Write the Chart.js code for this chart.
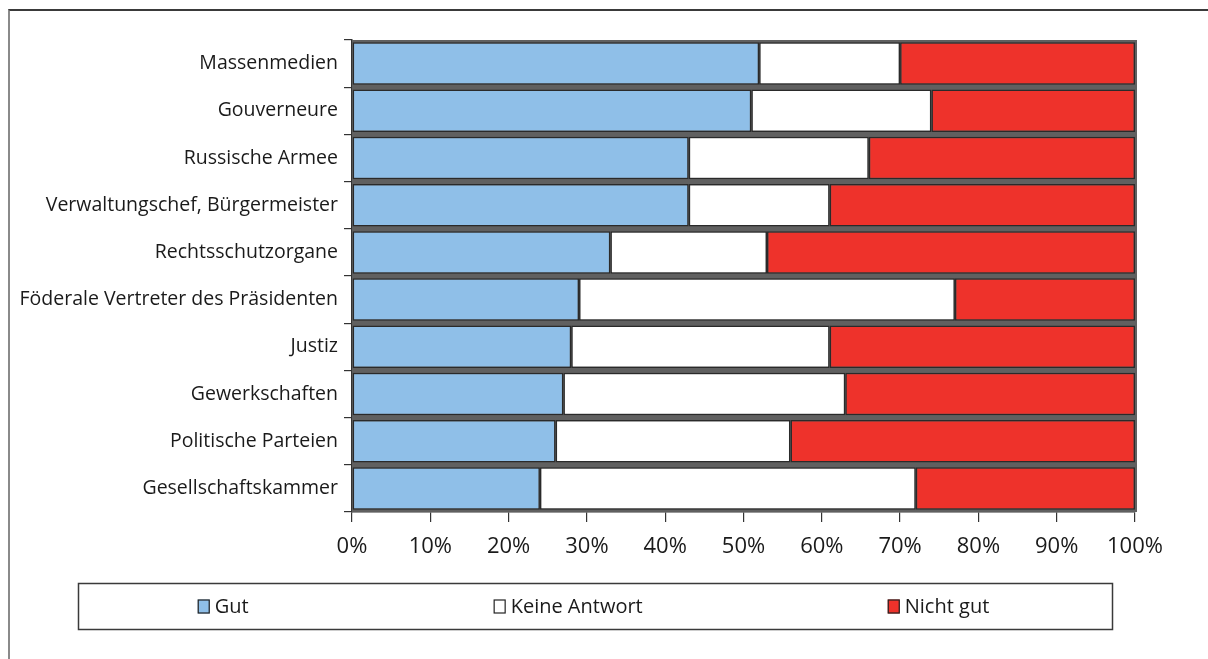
<!DOCTYPE html>
<html>
<head>
<meta charset="utf-8">
<script src="https://cdn.jsdelivr.net/npm/chart.js@4"></script>
<style>
  html, body { margin: 0; padding: 0; background: #fff; }
  #wrap { position: relative; width: 1208px; height: 659px; overflow: hidden; }
  #frame { position: absolute; left: 8px; top: 9px; right: -4px; bottom: -4px;
           border-top: 2px solid #3a3a3a; border-left: 2px solid #8a8a8a; }
  canvas { position: absolute; left: 0; top: 0; }
</style>
</head>
<body>
<div id="wrap">
  <div id="frame"></div>
  <canvas id="c" width="1208" height="659"></canvas>
</div>
<script>
// Bewertung der Institutionen (Anteile in %)
const categories = [
  'Massenmedien',
  'Gouverneure',
  'Russische Armee',
  'Verwaltungschef, Bürgermeister',
  'Rechtsschutzorgane',
  'Föderale Vertreter des Präsidenten',
  'Justiz',
  'Gewerkschaften',
  'Politische Parteien',
  'Gesellschaftskammer'
];
const gut          = [52, 51, 43, 43, 33, 29, 28, 27, 26, 24];
const keineAntwort = [18, 23, 23, 18, 20, 48, 33, 36, 30, 48];
const nichtGut     = [30, 26, 34, 39, 47, 23, 39, 37, 44, 28];
const seriesNames  = ['Gut', 'Keine Antwort', 'Nicht gut'];
const xTicks       = [0, 10, 20, 30, 40, 50, 60, 70, 80, 90, 100];

const FONT = '"Open Sans", Lato, sans-serif';
const colors = ['#8fbfe8', '#ffffff', '#ee322b'];

// Dark strips between the bars (the shaded top faces of the bar blocks)
const barShade = {
  id: 'barShade',
  beforeDatasetsDraw(chart) {
    const { ctx, chartArea: a } = chart;
    ctx.save();
    ctx.fillStyle = '#606060';
    ctx.fillRect(a.left, a.top, a.right - a.left + 2, a.bottom - a.top);
    ctx.restore();
  }
};

// Legend in a framed box below the axis, items spread with fixed spacing
const boxedLegend = {
  id: 'boxedLegend',
  afterDraw(chart) {
    const ctx = chart.ctx;
    const bx = 78.5, by = 583.5, bw = 1034, bh = 46;
    ctx.save();
    ctx.strokeStyle = '#3a3a3a';
    ctx.lineWidth = 1.5;
    ctx.strokeRect(bx, by, bw, bh);
    ctx.font = '20px ' + FONT;
    ctx.textBaseline = 'middle';
    const box = 12, gap = 5, spacing = 245;
    const items = chart.data.datasets.map(ds => ({
      label: ds.label, color: ds.backgroundColor,
      w: box + gap + ctx.measureText(ds.label).width
    }));
    const total = items.reduce((a, it) => a + it.w, 0) + spacing * (items.length - 1);
    let x = bx + bw / 2 - total / 2 - 2;
    const cy = by + bh / 2;
    items.forEach(it => {
      ctx.fillStyle = it.color;
      ctx.fillRect(x, cy - 7, box, 14);
      ctx.strokeStyle = '#222';
      ctx.lineWidth = 1.2;
      ctx.strokeRect(x + 0.5, cy - 6.5, box - 1, 13);
      ctx.fillStyle = '#1a1a1a';
      ctx.fillText(it.label, x + box + gap, cy + 1);
      x += it.w + spacing;
    });
    ctx.restore();
  }
};

const datasets = [gut, keineAntwort, nichtGut].map((vals, i) => ({
  label: seriesNames[i],
  data: vals,
  backgroundColor: colors[i],
  borderColor: '#2a2a2a',
  borderWidth: 1.5,
  borderSkipped: false,
  categoryPercentage: 1.0,
  barPercentage: 0.9
}));

new Chart(document.getElementById('c'), {
  type: 'bar',
  data: { labels: categories, datasets },
  plugins: [barShade, boxedLegend],
  options: {
    responsive: false,
    animation: false,
    indexAxis: 'y',
    layout: { padding: { top: 40, right: 73, bottom: 0, left: 0 } },
    plugins: { legend: { display: false }, tooltip: { enabled: false } },
    scales: {
      x: {
        stacked: true,
        min: 0, max: 100,
        afterBuildTicks: s => { s.ticks = xTicks.map(v => ({ value: v })); },
        afterFit: s => { s.height = 147; },
        grid: { drawOnChartArea: false, drawTicks: true, tickLength: 10, color: '#333', lineWidth: 1.2 },
        border: { display: true, color: '#333', width: 1.5 },
        ticks: {
          callback: v => v + '%',
          color: '#1a1a1a',
          font: { family: FONT, size: 22 },
          padding: 12,
          maxRotation: 0
        }
      },
      y: {
        stacked: true,
        afterFit: s => { s.width = 352; },
        grid: { drawOnChartArea: false, drawTicks: true, tickLength: 8, color: '#333', lineWidth: 1.2, offset: true },
        border: { display: true, color: '#333', width: 1.5 },
        ticks: {
          color: '#1a1a1a',
          font: { family: FONT, size: 19.5 },
          padding: 6
        }
      }
    }
  }
});
</script>
</body>
</html>
